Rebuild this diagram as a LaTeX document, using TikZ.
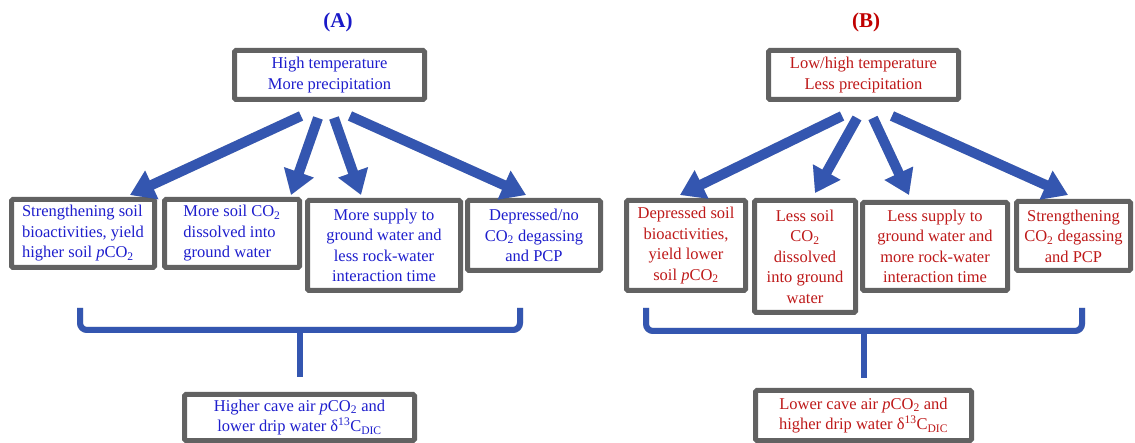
\documentclass[tikz,border=0pt]{standalone}
\usepackage{fontspec}
\setmainfont{Liberation Serif}
\usetikzlibrary{arrows.meta,calc}
\definecolor{arrblue}{RGB}{52,86,176}
\definecolor{boxgray}{RGB}{98,98,98}
\definecolor{txtblue}{RGB}{30,30,205}
\definecolor{txtred}{RGB}{190,25,25}
\definecolor{ttlblue}{RGB}{25,25,200}
\definecolor{ttlred}{RGB}{192,0,0}
\begin{document}
\begin{tikzpicture}[x=1pt,y=-1pt,
  box/.style={draw=boxgray, line width=5pt, fill=white, rounded corners=1.5pt,
    inner sep=2pt, align=center, font=\fontsize{16.5}{20.5}\selectfont},
  bluebox/.style={box, text=txtblue},
  redbox/.style={box, text=txtred},
  ttl/.style={font=\fontsize{21}{25}\selectfont\bfseries, inner sep=0pt},
  bigarrow/.style={arrblue, line width=10pt, line cap=butt,
    -{Triangle[length=24pt,width=30pt]}},
  arrshadow/.style={black, opacity=0.18, line width=10pt, line cap=butt,
    -{Triangle[length=24pt,width=30pt]}},
  brace/.style={arrblue, line width=6pt, rounded corners=7pt},
  braceshadow/.style={black, opacity=0.18, line width=6pt, rounded corners=7pt}
]
\fill[white] (0,0) rectangle (1135,443);
\useasboundingbox (0,0) rectangle (1135,443);

% titles
\node[ttl, text=ttlblue] (tA) at (338,22) {(A)};
\node[ttl, text=ttlred] (tB) at (866,22) {(B)};

% ---------- panel A ----------
\node[bluebox, minimum width=190, minimum height=49] (topA) at (329.5,75)
  {High temperature\\More precipitation};
\node[bluebox, minimum width=143, minimum height=68, align=left] (A1) at (83,233.5)
  {Strengthening soil\\bioactivities, yield\\higher soil \textit{p}CO\textsubscript{2}};
\node[bluebox, minimum width=135, minimum height=68, align=left] (A2) at (232,233.5)
  {More soil CO\textsubscript{2}\\dissolved into\\ground water};
\node[bluebox, minimum width=153, minimum height=90] (A3) at (384,245.5)
  {More supply to\\ground water and\\less rock-water\\interaction time};
\node[bluebox, minimum width=133, minimum height=70] (A4) at (534,235.5)
  {Depressed/no\\CO\textsubscript{2} degassing\\and PCP};
\node[bluebox, minimum width=230, minimum height=46] (botA) at (299.5,417.5)
  {Higher cave air \textit{p}CO\textsubscript{2} and\\lower drip water δ\textsuperscript{13}C\textsubscript{DIC}};

% ---------- panel B ----------
\node[redbox, minimum width=190, minimum height=49] (topB) at (863.5,75)
  {Low/high temperature\\Less precipitation};
\node[redbox, minimum width=119, minimum height=90] (B1) at (686,245.5)
  {Depressed soil\\bioactivities,\\yield lower\\soil \textit{p}CO\textsubscript{2}};
\node[redbox, minimum width=101, minimum height=112] (B2) at (805,256.5)
  {Less soil\\CO\textsubscript{2}\\dissolved\\into ground\\water};
\node[redbox, minimum width=145, minimum height=88] (B3) at (935,246.5)
  {Less supply to\\ground water and\\more rock-water\\interaction time};
\node[redbox, minimum width=114, minimum height=69] (B4) at (1073.5,236)
  {Strengthening\\CO\textsubscript{2} degassing\\and PCP};
\node[redbox, minimum width=216, minimum height=50] (botB) at (863.5,415.5)
  {Lower cave air \textit{p}CO\textsubscript{2} and\\higher drip water δ\textsuperscript{13}C\textsubscript{DIC}};

% arrow coordinates
\coordinate (sA1) at (301,116); \coordinate (eA1) at (130,195);
\coordinate (sA2) at (318,118); \coordinate (eA2) at (291,195);
\coordinate (sA3) at (334,118); \coordinate (eA3) at (361,195);
\coordinate (sA4) at (350,116); \coordinate (eA4) at (526,195);
\coordinate (sB1) at (842,116); \coordinate (eB1) at (680,195);
\coordinate (sB2) at (857,118); \coordinate (eB2) at (815,193);
\coordinate (sB3) at (873,118); \coordinate (eB3) at (909,195);
\coordinate (sB4) at (892,116); \coordinate (eB4) at (1068,195);

\begin{scope}[shift={(2,3)}]
\foreach \s in {A1,A2,A3,A4,B1,B2,B3,B4}{\draw[arrshadow] (s\s) -- (e\s);}
\end{scope}
\foreach \s in {A1,A2,A3,A4,B1,B2,B3,B4}{\draw[bigarrow] (s\s) -- (e\s);}

% braces
\coordinate (bAl) at (80,308); \coordinate (bAr) at (520,308);
\coordinate (bAm) at (299.5,330); \coordinate (bAs) at (299.5,377);
\coordinate (bBl) at (646,308); \coordinate (bBr) at (1082,308);
\coordinate (bBm) at (863.5,331); \coordinate (bBs) at (863.5,378);

\begin{scope}[shift={(2,4)}]
\draw[braceshadow] (bAl) -- (bAl |- bAm) -- (bAr |- bAm) -- (bAr);
\draw[braceshadow] (bBl) -- (bBl |- bBm) -- (bBr |- bBm) -- (bBr);
\end{scope}
\draw[brace] (bAl) -- (bAl |- bAm) -- (bAr |- bAm) -- (bAr);
\draw[brace, line cap=butt] (bAm) -- (bAs);
\draw[brace] (bBl) -- (bBl |- bBm) -- (bBr |- bBm) -- (bBr);
\draw[brace, line cap=butt] (bBm) -- (bBs);
\end{tikzpicture}
\end{document}
